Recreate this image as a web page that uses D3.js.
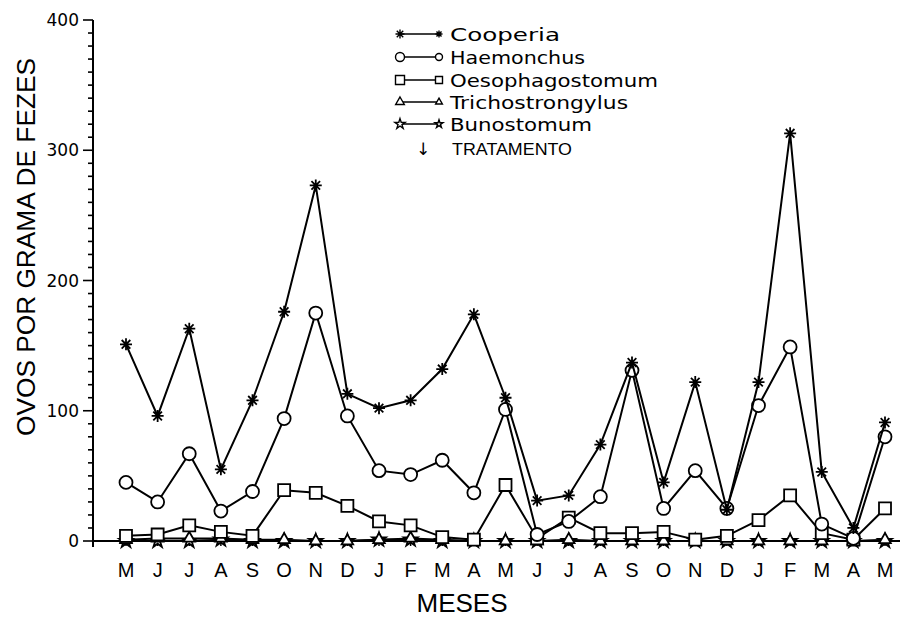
<!DOCTYPE html>
<html><head><meta charset="utf-8">
<script src="https://cdn.jsdelivr.net/npm/d3@7"></script>
<style>body{margin:0;background:#fff}svg{display:block}</style>
</head><body>
<svg id="c" width="907" height="619"></svg>
<script>
const months = ["M","J","J","A","S","O","N","D","J","F","M","A","M","J","J","A","S","O","N","D","J","F","M","A","M"];
const cooperia = [151, 96, 163, 55, 108, 176, 273, 113, 102, 108, 132, 174, 110, 31, 35, 74, 137, 45, 122, 24, 122, 313, 53, 10, 91];
const haemonchus = [45, 30, 67, 23, 38, 94, 175, 96, 54, 51, 62, 37, 101, 5, 15, 34, 131, 25, 54, 25, 104, 149, 13, 2, 80];
const oesophagostomum = [4, 5, 12, 7, 4, 39, 37, 27, 15, 12, 3, 1, 43, 2, 18, 6, 6, 7, 1, 4, 16, 35, 6, 1, 25];
const trichostrongylus = [1, 2, 2, 2, 1, 1, 0, 0, 1, 2, 1, 0, 0, 0, 1, 0, 0, 0, 0, 0, 0, 0, 0, 0, 1];
const bunostomum = [0, 0, 0, 1, 0, 0, 0, 0, 1, 1, 0, 0, 0, 0, 0, 0, 0, 0, 0, 0, 0, 0, 0, 0, 0];
const seriesNames = ["Cooperia","Haemonchus","Oesophagostomum","Trichostrongylus","Bunostomum"];
const yTicks = [0, 100, 200, 300, 400];

const svg = d3.select("#c");
const x = d3.scalePoint().domain(d3.range(months.length)).range([126, 885]);
const y = d3.scaleLinear().domain([0, 400]).range([541, 20]);

function asterisk(s){ const a=s, d=s*0.72;
  return `M0,${-a}L0,${a}M${-a},0L${a},0M${-d},${-d}L${d},${d}M${-d},${d}L${d},${-d}`; }
const markers = {
  Cooperia: {path: asterisk, fill: "none"},
  Haemonchus: {path: s => d3.symbol(d3.symbolCircle, Math.PI*s*s)(), fill: "#fff"},
  Oesophagostomum: {path: s => d3.symbol(d3.symbolSquare, 4*s*s)(), fill: "#fff"},
  Trichostrongylus: {path: s => d3.symbol(d3.symbolTriangle, 1.6*s*s)(), fill: "#fff"},
  Bunostomum: {path: s => d3.symbol(d3.symbolStar, 1.6*s*s)(), fill: "#fff"}
};
const sizes = {Cooperia:6, Haemonchus:6.5, Oesophagostomum:6, Trichostrongylus:6, Bunostomum:6};
const dataMap = {Cooperia: cooperia, Haemonchus: haemonchus, Oesophagostomum: oesophagostomum, Trichostrongylus: trichostrongylus, Bunostomum: bunostomum};

// axes
const yAxis = svg.append("g").attr("transform","translate(93,0)");
yAxis.append("line").attr("x1",0).attr("x2",0).attr("y1",y(400)).attr("y2",547).attr("stroke","#000").attr("stroke-width",2);
yAxis.selectAll("line.minor").data(d3.range(0,401,10)).join("line").attr("class","minor")
  .attr("x1", d => d%100===0 ? -10 : -5).attr("x2",0).attr("y1",d=>y(d)).attr("y2",d=>y(d))
  .attr("stroke","#000").attr("stroke-width",1.6);
yAxis.selectAll("text").data(yTicks).join("text")
  .attr("x",-14).attr("y",d=>y(d)+6).attr("text-anchor","end")
  .attr("font-family","DejaVu Sans").attr("font-size",17).text(d=>d);

svg.append("line").attr("x1",92).attr("x2",900).attr("y1",y(0)).attr("y2",y(0)).attr("stroke","#000").attr("stroke-width",2.2);
svg.append("g").selectAll("line").data(d3.range(months.length)).join("line")
  .attr("x1",d=>x(d)).attr("x2",d=>x(d)).attr("y1",y(0)-3).attr("y2",y(0)+5).attr("stroke","#000").attr("stroke-width",1.5);
svg.append("g").selectAll("text").data(months).join("text")
  .attr("x",(d,i)=>x(i)).attr("y",577).attr("text-anchor","middle")
  .attr("font-family","Liberation Sans").attr("font-size",20).text(d=>d);

svg.append("text").attr("x",462).attr("y",612).attr("text-anchor","middle")
  .attr("font-family","Liberation Sans").attr("font-size",26).text("MESES");
svg.append("text").attr("transform","translate(35,247) rotate(-90)").attr("text-anchor","middle")
  .attr("font-family","Liberation Sans").attr("font-size",26)
  .attr("textLength",378).attr("lengthAdjust","spacingAndGlyphs").text("OVOS POR GRAMA DE FEZES");

// series
const line = d3.line().x((d,i)=>x(i)).y(d=>y(d));
const order = ["Bunostomum","Trichostrongylus","Oesophagostomum","Haemonchus","Cooperia"];
order.forEach(name => {
  const vals = dataMap[name];
  const g = svg.append("g");
  g.append("path").attr("d", line(vals)).attr("fill","none").attr("stroke","#000").attr("stroke-width",2);
  g.selectAll("path.m").data(vals).join("path").attr("class","m")
    .attr("transform",(d,i)=>`translate(${x(i)},${y(d)})`)
    .attr("d", markers[name].path(sizes[name]))
    .attr("fill", markers[name].fill).attr("stroke","#000").attr("stroke-width",1.8);
});

// legend
const lg = svg.append("g");
const rowY = [34, 57, 80, 102, 124];
const widths = [110, 135, 208, 178, 142];
seriesNames.forEach((name,i) => {
  const yy = rowY[i];
  lg.append("line").attr("x1",400).attr("x2",439).attr("y1",yy).attr("y2",yy).attr("stroke","#000").attr("stroke-width",1.5);
  [400, 439].forEach((xx,j) => {
    lg.append("path").attr("transform",`translate(${xx},${yy})`)
      .attr("d", markers[name].path(j===0?4.5:3.5))
      .attr("fill", markers[name].fill).attr("stroke","#000").attr("stroke-width",1.4);
  });
  lg.append("text").attr("x",450).attr("y",yy+7).attr("font-family","DejaVu Sans").attr("font-size",18)
    .attr("textLength",widths[i]).attr("lengthAdjust","spacingAndGlyphs").text(name);
});
lg.append("text").attr("x",423).attr("y",155).attr("text-anchor","middle").attr("font-family","DejaVu Sans").attr("font-size",17).text("↓");
lg.append("text").attr("x",452).attr("y",155).attr("font-family","Liberation Sans").attr("font-size",17)
  .attr("textLength",120).attr("lengthAdjust","spacingAndGlyphs").text("TRATAMENTO");
</script>
</body></html>
